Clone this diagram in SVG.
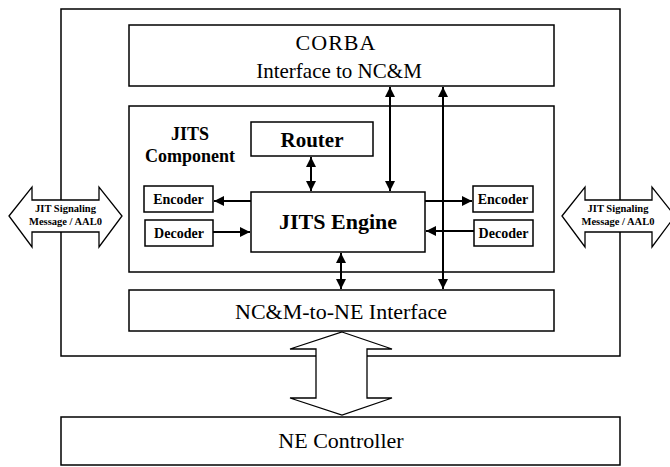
<svg xmlns="http://www.w3.org/2000/svg" width="670" height="467" viewBox="0 0 670 467" font-family="'Liberation Serif', 'Times New Roman', 'DejaVu Serif', serif">
<style>
.box{fill:#fff;stroke:#000;stroke-width:1.5}
.frame{fill:none;stroke:#000;stroke-width:1.5}
.blk{fill:#fff;stroke:#000;stroke-width:1.3}
text{font-family:'Liberation Serif','Times New Roman','DejaVu Serif',serif;fill:#000;text-anchor:middle}
.b{font-weight:bold}
.c{fill:none;stroke:#000;stroke-width:2}
</style>
<defs>
<marker id="ah" viewBox="0 0 10 10" refX="10" refY="5" markerWidth="10" markerHeight="10" markerUnits="userSpaceOnUse" orient="auto-start-reverse">
<path d="M0,0 L10,5 L0,10 z" fill="#000"/>
</marker>
</defs>
<rect x="0" y="0" width="670" height="467" fill="#fff"/>
<g id="outer"><rect class="frame" x="61" y="9" width="559" height="347"/></g>
<g id="corba">
<rect class="box" x="129" y="25" width="425" height="61"/>
<text x="336" y="50" font-size="22" letter-spacing="1">CORBA</text>
<text x="339" y="78" font-size="21">Interface to NC&amp;M</text>
</g>
<g id="jits-component">
<rect class="box" x="129" y="106" width="425" height="166"/>
<text class="b" x="190" y="140" font-size="18">JITS</text>
<text class="b" x="190" y="162" font-size="18">Component</text>
</g>
<g id="router">
<rect class="box" x="251" y="122" width="122" height="34"/>
<text class="b" x="312" y="147" font-size="21">Router</text>
</g>
<g id="engine">
<rect class="box" x="251" y="192" width="174" height="60"/>
<text class="b" x="338" y="229" font-size="22">JITS Engine</text>
</g>
<g id="encoder-left">
<rect class="box" x="144" y="186" width="69" height="26"/>
<text class="b" x="178.500" y="204" font-size="14">Encoder</text>
</g>
<g id="decoder-left">
<rect class="box" x="145" y="220" width="68" height="26"/>
<text class="b" x="179" y="238" font-size="14">Decoder</text>
</g>
<g id="encoder-right">
<rect class="box" x="473" y="186" width="60" height="26"/>
<text class="b" x="503" y="204" font-size="14">Encoder</text>
</g>
<g id="decoder-right">
<rect class="box" x="474" y="220" width="59" height="26"/>
<text class="b" x="503.500" y="238" font-size="14">Decoder</text>
</g>
<g id="ncm-ne">
<rect class="box" x="129" y="290" width="425" height="41"/>
<text x="341" y="319" font-size="22">NC&amp;M-to-NE Interface</text>
</g>
<g id="ne-controller">
<rect class="box" x="61" y="417" width="559" height="48"/>
<text x="341" y="448" font-size="22">NE Controller</text>
</g>
<g id="connectors">
<line class="c" x1="311" y1="157" x2="311" y2="191" marker-start="url(#ah)" marker-end="url(#ah)"/>
<line class="c" x1="390" y1="87" x2="390" y2="191" marker-start="url(#ah)" marker-end="url(#ah)"/>
<line class="c" x1="443" y1="87" x2="443" y2="289" marker-start="url(#ah)" marker-end="url(#ah)"/>
<line class="c" x1="341" y1="253" x2="341" y2="289" marker-start="url(#ah)" marker-end="url(#ah)"/>
<line class="c" x1="251" y1="201" x2="214" y2="201" marker-end="url(#ah)"/>
<line class="c" x1="213" y1="232" x2="250" y2="232" marker-end="url(#ah)"/>
<line class="c" x1="425" y1="201" x2="472" y2="201" marker-end="url(#ah)"/>
<line class="c" x1="474" y1="231" x2="426" y2="231" marker-end="url(#ah)"/>
</g>
<g id="jit-left">
<polygon class="blk" points="9,216 32,187 32,200 99,200 99,187 122,216 99,247 99,232 32,232 32,247"/>
<text class="b" x="65.500" y="212" font-size="10.500">JIT Signaling</text>
<text class="b" x="65.500" y="225" font-size="10.500">Message / AAL0</text>
</g>
<g id="jit-right">
<polygon class="blk" points="562,216 585,187 585,200 652,200 652,187 675,216 652,247 652,232 585,232 585,247"/>
<text class="b" x="618" y="212" font-size="10.500">JIT Signaling</text>
<text class="b" x="618" y="225" font-size="10.500">Message / AAL0</text>
</g>
<g id="ne-link">
<polygon class="blk" points="342,332 392,349 367,349 367,398 392,398 342,415 290,398 316,398 316,349 290,349"/>
</g>
</svg>
